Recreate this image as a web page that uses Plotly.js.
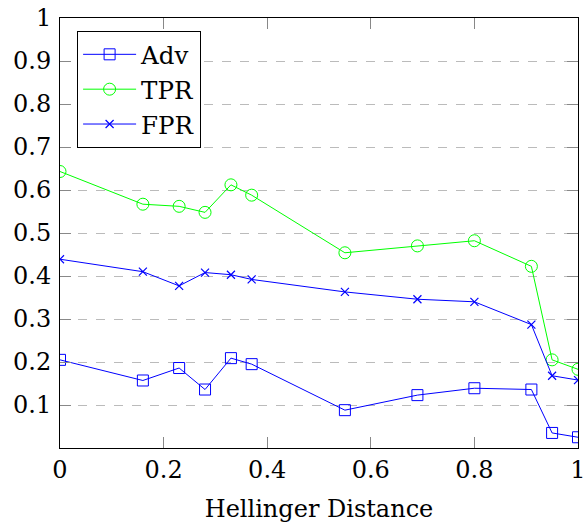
<!DOCTYPE html>
<html>
<head>
<meta charset="utf-8">
<script src="https://cdn.plot.ly/plotly-3.0.1.min.js"></script>
<style>html,body{margin:0;padding:0;background:#fff;}#chart{width:586px;height:523px;}</style>
</head>
<body>
<div id="chart"></div>
<script>
const hellinger = [0, 0.16, 0.23, 0.28, 0.33, 0.37, 0.55, 0.69, 0.80, 0.91, 0.95, 1.00];
const adv = [0.205, 0.157, 0.186, 0.136, 0.209, 0.195, 0.088, 0.123, 0.139, 0.136, 0.035, 0.025];
const tpr = [0.643, 0.567, 0.562, 0.548, 0.612, 0.588, 0.454, 0.470, 0.482, 0.4225, 0.205, 0.183];
const fpr = [0.439, 0.410, 0.377, 0.408, 0.403, 0.392, 0.363, 0.346, 0.340, 0.287, 0.168, 0.158];
const xTickVals = [0, 0.2, 0.4, 0.6, 0.8, 1];
const xTickText = ['0', '0.2', '0.4', '0.6', '0.8', '1'];
const yTickVals = [0.1, 0.2, 0.3, 0.4, 0.5, 0.6, 0.7, 0.8, 0.9, 1];
const yTickText = ['0.1', '0.2', '0.3', '0.4', '0.5', '0.6', '0.7', '0.8', '0.9', '1'];

const FONT = "DejaVu Serif";
const blue = '#0000ff', green = '#00ff00';

const traces = [
  {x: hellinger, y: adv, name: 'Adv', mode: 'lines+markers', type: 'scatter',
   line: {color: blue, width: 1},
   marker: {symbol: 'square-open', size: 11, color: blue, line: {width: 1, color: blue}}},
  {x: hellinger, y: tpr, name: 'TPR', mode: 'lines+markers', type: 'scatter',
   line: {color: green, width: 1},
   marker: {symbol: 'circle-open', size: 12, color: green, line: {width: 1, color: green}}},
  {x: hellinger, y: fpr, name: 'FPR', mode: 'lines+markers', type: 'scatter',
   line: {color: blue, width: 1},
   marker: {symbol: 'x-thin-open', size: 8, color: blue, line: {width: 1.2, color: blue}}}
];

const layout = {
  width: 586, height: 523,
  margin: {l: 60, r: 7.5, t: 18, b: 75},
  paper_bgcolor: '#fff', plot_bgcolor: '#fff',
  font: {family: FONT, size: 24, color: '#000'},
  showlegend: true,
  legend: {x: 0.033, y: 0.97, xanchor: 'left', yanchor: 'top',
           bgcolor: '#fff', bordercolor: '#000', borderwidth: 1,
           font: {family: FONT, size: 24.5, color: '#000'}, itemwidth: 53,
           entrywidth: 135, entrywidthmode: 'pixels'},
  xaxis: {range: [0, 1], tickvals: xTickVals, ticktext: xTickText,
          ticks: 'inside', ticklen: 11, tickcolor: '#888', tickwidth: 1,
          showline: true, linecolor: '#000', linewidth: 1, mirror: 'ticks',
          showgrid: false, zeroline: false,
          tickfont: {family: FONT, size: 24, color: '#000'},
          title: {text: 'Hellinger Distance', font: {family: FONT, size: 24, color: '#000'}, standoff: 18}},
  yaxis: {range: [0, 1], tickvals: yTickVals, ticktext: yTickText,
          ticks: 'inside', ticklen: 11, tickcolor: '#888', tickwidth: 1,
          ticklabelstandoff: 3,
          showline: true, linecolor: '#000', linewidth: 1, mirror: 'ticks',
          showgrid: true, gridcolor: '#bbb', griddash: 'dash', gridwidth: 1,
          zeroline: false,
          tickfont: {family: FONT, size: 24, color: '#000'}}
};

Plotly.newPlot('chart', traces, layout, {displayModeBar: false, staticPlot: true});
</script>
</body>
</html>
